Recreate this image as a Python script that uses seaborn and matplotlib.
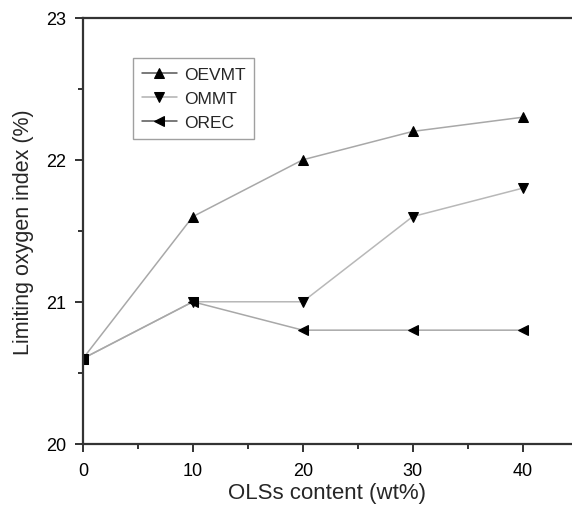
import matplotlib
matplotlib.use("Agg")
import matplotlib.pyplot as plt
import seaborn as sns
import pandas as pd
from matplotlib.ticker import MultipleLocator

sns.set_style("white")
plt.rcParams['font.family'] = ['Liberation Sans', 'DejaVu Sans']

content = [0, 10, 20, 30, 40]
oevmt = [20.6, 21.6, 22.0, 22.2, 22.3]
ommt = [20.6, 21.0, 21.0, 21.6, 21.8]
orec = [20.6, 21.0, 20.8, 20.8, 20.8]

series = ["OEVMT", "OMMT", "OREC"]
markers = {"OEVMT": "^", "OMMT": "v", "OREC": "<"}

df = pd.DataFrame({
    "x": content * 3,
    "y": oevmt + ommt + orec,
    "series": ["OEVMT"] * 5 + ["OMMT"] * 5 + ["OREC"] * 5,
})

fig = plt.figure(figsize=(5.72, 5.10), dpi=100)
ax = fig.add_axes([0.145, 0.128, 0.855, 0.835])

line_colors = {"OEVMT": "#a8a8a8", "OMMT": "#b8b8b8", "OREC": "#a8a8a8"}
for s in series:
    sub = df[df["series"] == s]
    sns.lineplot(data=sub, x="x", y="y", ax=ax, color=line_colors[s],
                 marker=markers[s], markersize=7.5, markerfacecolor="black",
                 markeredgecolor="black", linewidth=1.1, label=s)

ax.set_xlim(0, 44.5)
ax.set_ylim(20, 23)
ax.xaxis.set_major_locator(MultipleLocator(10))
ax.xaxis.set_minor_locator(MultipleLocator(5))
ax.yaxis.set_major_locator(MultipleLocator(1))
ax.yaxis.set_minor_locator(MultipleLocator(0.5))
ax.tick_params(axis="both", which="major", direction="out", length=6, width=1.3,
               labelsize=13, colors="#222222", labelcolor="black", left=True, bottom=True)
ax.tick_params(axis="x", which="major", pad=7)
ax.tick_params(axis="y", which="major", pad=6)
ax.tick_params(axis="both", which="minor", direction="out", length=3.5, width=1.3,
               colors="#222222", left=True, bottom=True)

for sp in ["left", "bottom", "top"]:
    ax.spines[sp].set_color("#333333")
    ax.spines[sp].set_linewidth(1.6)
ax.spines["right"].set_visible(False)

ax.set_xlabel("OLSs content (wt%)", fontsize=16, labelpad=2)
ax.set_ylabel("Limiting oxygen index (%)", fontsize=15.5, labelpad=9)

leg = ax.legend(loc="upper left", bbox_to_anchor=(0.102, 0.905), fontsize=12.5,
                frameon=True, fancybox=False, edgecolor="#888888",
                handlelength=2.05, handletextpad=0.4, borderpad=0.5,
                labelspacing=0.5, borderaxespad=0)
leg.get_frame().set_linewidth(1.0)
for h, c in zip(leg.legend_handles, ["#555555", "#b0b0b0", "#555555"]):
    h.set_color(c)
    h.set_markerfacecolor("black")
    h.set_markeredgecolor("black")
    h.set_markersize(6.5)

fig.savefig("out.png", dpi=100)
